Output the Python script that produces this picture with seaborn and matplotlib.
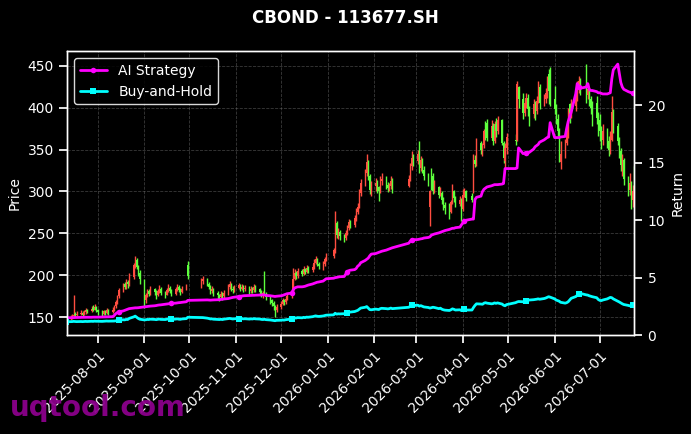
import numpy as np
import pandas as pd
import matplotlib
matplotlib.use("Agg")
import matplotlib.pyplot as plt
import matplotlib.dates as mdates
import seaborn as sns

# ---------------- data ----------------
START_DATE = "2025-07-11"
END_DATE = "2026-07-24"
HOLIDAYS = ["2025-10-01", "2025-10-02", "2025-10-03", "2025-10-06", "2025-10-07", "2025-10-08",
            "2026-01-01", "2026-01-02",
            "2026-02-16", "2026-02-17", "2026-02-18", "2026-02-19", "2026-02-20", "2026-02-23",
            "2026-04-06", "2026-05-01", "2026-05-04", "2026-05-05", "2026-06-19"]

opens = [
    148, 149, 150, 151, 154, 152, 154, 155, 153, 156, 158, 157, 161, 159, 162,
    158, 156, 154, 157, 155, 158, 156, 159, 163, 168, 175, 182, 189, 186, 192, 189, 198, 212, 218, 210, 203,
    193, 170, 176, 181, 178, 183, 180, 176, 181, 184, 179, 177, 182, 185, 181, 178, 183, 186, 182, 180, 184, 212,
    188, 193, 196, 190, 186, 181, 183, 179, 176, 174, 178, 175, 179, 186, 189, 184, 182,
    185, 188, 184, 186, 183, 185, 181, 184, 182, 186, 183, 180, 177, 196, 178, 174, 170, 167, 163, 158,
    162, 166, 170, 168, 172, 175, 180, 196, 203, 199, 205, 202, 207, 204, 209, 206, 210, 215, 219, 214, 211, 213, 219,
    223, 230, 262, 248, 252, 247, 244, 250, 256, 263, 260, 268, 276, 282, 298, 310, 322, 335, 318, 302,
    306, 310, 305, 300, 312, 315, 308, 304, 306, 313, 307, 315, 330, 340,
    336, 352, 328, 338, 326, 318, 282, 325, 318, 300, 305, 296, 298, 290, 284, 284, 276, 287, 300, 292, 285, 290,
    279, 296, 300, 295, 301, 338, 333, 358, 350, 355, 380, 382, 364, 378, 360, 380, 372, 385, 358, 336, 352,
    362, 362, 425, 410, 394, 405, 412, 398, 392, 404, 396, 408, 425, 405, 410, 418, 440, 438,
    410, 398, 386, 372, 335, 345, 358, 368, 404, 392, 402, 414, 424, 432, 444, 415, 422, 410, 400, 405, 388,
    385, 372, 362, 372, 360, 350, 362, 395, 378, 360, 348, 332, 338, 315, 302, 310, 290, 318,
]
highs = [
    152, 153, 154, 176, 156, 157, 158, 157, 159, 161, 160, 163, 165, 166, 163,
    160, 158, 159, 158, 161, 160, 162, 165, 170, 177, 185, 191, 192, 195, 194, 203, 215, 223, 220, 212, 206,
    195, 179, 183, 183, 187, 185, 182, 184, 188, 186, 181, 185, 189, 187, 183, 186, 190, 188, 185, 187, 190, 217,
    197, 199, 197, 192, 188, 187, 185, 181, 178, 181, 180, 182, 190, 193, 191, 187, 188,
    191, 190, 189, 188, 188, 187, 187, 186, 190, 188, 185, 182, 181, 205, 180, 176, 172, 169, 165, 166,
    169, 173, 172, 175, 178, 183, 209, 208, 205, 209, 208, 211, 209, 212, 211, 213, 219, 223, 220, 216, 217, 222, 226,
    233, 277, 265, 256, 254, 249, 254, 260, 267, 266, 272, 280, 286, 303, 315, 327, 345, 338, 321, 312,
    316, 314, 307, 318, 322, 318, 311, 310, 318, 316, 320, 334, 348, 345,
    350, 360, 342, 340, 330, 322, 302, 328, 322, 314, 306, 305, 300, 293, 287, 286, 290, 309, 302, 295, 295, 292,
    303, 304, 302, 298, 345, 344, 364, 360, 358, 375, 384, 386, 385, 382, 384, 388, 390, 387, 360, 358, 370,
    368, 432, 426, 418, 412, 418, 416, 402, 410, 408, 414, 432, 428, 416, 424, 438, 446, 448,
    426, 404, 392, 376, 360, 363, 378, 400, 406, 410, 422, 432, 438, 436, 452, 430, 424, 414, 408, 414, 395,
    392, 378, 380, 376, 366, 372, 414, 398, 382, 365, 352, 345, 340, 318, 322, 312, 308, 330,
]
lows = [
    144, 147, 148, 149, 150, 151, 152, 151, 152, 154, 155, 156, 157, 158, 156,
    153, 151, 153, 152, 154, 153, 155, 157, 161, 166, 173, 180, 183, 184, 185, 187, 196, 209, 207, 199, 190,
    161, 167, 174, 175, 176, 177, 172, 175, 179, 177, 173, 176, 180, 179, 175, 177, 181, 180, 177, 179, 182, 196,
    185, 190, 187, 183, 178, 179, 175, 172, 169, 172, 171, 173, 177, 184, 181, 179, 180,
    183, 181, 182, 180, 181, 178, 179, 179, 180, 180, 177, 174, 173, 176, 170, 166, 163, 158, 150, 156,
    160, 164, 165, 166, 170, 173, 178, 194, 196, 197, 199, 200, 202, 203, 203, 204, 208, 213, 211, 207, 206, 211, 217,
    220, 227, 245, 243, 242, 240, 242, 248, 254, 256, 258, 265, 273, 280, 295, 307, 318, 314, 297, 295,
    300, 298, 289, 298, 308, 303, 299, 300, 303, 298, 305, 312, 326, 330,
    333, 322, 325, 322, 314, 306, 259, 302, 297, 298, 292, 294, 285, 278, 273, 267, 274, 285, 288, 281, 283, 265,
    277, 293, 289, 288, 298, 329, 330, 345, 342, 352, 362, 360, 362, 355, 358, 365, 368, 355, 334, 327, 345,
    356, 360, 400, 386, 390, 400, 390, 378, 388, 385, 392, 405, 398, 402, 406, 412, 404, 402,
    392, 380, 366, 335, 327, 340, 355, 364, 382, 388, 396, 408, 418, 415, 405, 410, 402, 392, 378, 380, 366,
    360, 351, 355, 352, 342, 345, 360, 370, 355, 340, 325, 318, 308, 295, 296, 279, 282, 300,
]
closes = [
    149, 150, 151, 153, 152, 154, 155, 153, 156, 158, 157, 160, 159, 162, 158,
    156, 154, 157, 155, 158, 156, 159, 163, 168, 175, 182, 188, 186, 191, 189, 198, 212, 218, 210, 203, 195,
    170, 176, 180, 178, 183, 180, 176, 181, 184, 179, 177, 182, 185, 181, 178, 183, 186, 182, 180, 184, 187, 199,
    193, 196, 190, 186, 181, 183, 179, 176, 174, 178, 175, 179, 186, 189, 184, 182, 185,
    188, 184, 186, 183, 185, 181, 184, 182, 186, 183, 180, 177, 179, 178, 174, 170, 167, 163, 158, 162,
    166, 170, 168, 172, 175, 180, 196, 203, 199, 205, 202, 207, 204, 209, 206, 210, 215, 219, 214, 211, 213, 219, 223,
    230, 262, 248, 252, 247, 244, 250, 256, 263, 260, 268, 276, 282, 298, 310, 322, 335, 318, 302, 306,
    310, 305, 300, 312, 315, 308, 304, 306, 313, 302, 315, 330, 340, 336,
    345, 328, 338, 326, 318, 310, 300, 305, 300, 310, 296, 302, 290, 284, 280, 276, 287, 300, 292, 285, 290, 279,
    296, 300, 292, 290, 338, 333, 358, 350, 355, 372, 366, 364, 378, 360, 380, 372, 385, 358, 340, 352, 365,
    360, 428, 410, 394, 405, 412, 398, 392, 404, 396, 408, 425, 405, 410, 418, 430, 420, 410,
    398, 386, 372, 340, 345, 358, 368, 396, 392, 402, 414, 424, 432, 424, 415, 422, 410, 400, 388, 388, 375,
    372, 362, 372, 360, 350, 366, 395, 378, 360, 348, 332, 338, 315, 302, 310, 290, 300, 306,
]
ai_strategy = [
    1.50, 1.51, 1.52, 1.52, 1.53, 1.53, 1.54, 1.54, 1.54, 1.55, 1.55, 1.55, 1.56, 1.56, 1.56,
    1.56, 1.57, 1.57, 1.58, 1.58, 1.59, 1.60, 1.70, 1.85, 1.95, 2.03, 2.10, 2.15, 2.20, 2.25, 2.30, 2.35, 2.37, 2.37, 2.38, 2.40,
    2.45, 2.47, 2.48, 2.50, 2.52, 2.55, 2.57, 2.60, 2.62, 2.63, 2.68, 2.70, 2.72, 2.74, 2.76, 2.78, 2.80, 2.82, 2.83, 2.85, 2.90, 3.02,
    3.05, 3.06, 3.06, 3.05, 3.04, 3.05, 3.06, 3.07, 3.08, 3.10, 3.12, 3.14, 3.18, 3.22, 3.25, 3.28, 3.30,
    3.35, 3.38, 3.40, 3.42, 3.43, 3.44, 3.45, 3.46, 3.46, 3.47, 3.48, 3.49, 3.50, 3.50, 3.45, 3.42, 3.40, 3.38, 3.36, 3.38,
    3.42, 3.45, 3.50, 3.55, 3.60, 3.65, 3.90, 4.10, 4.15, 4.20, 4.20, 4.22, 4.25, 4.30, 4.35, 4.45, 4.50, 4.55, 4.60, 4.62, 4.70, 4.80, 4.90,
    4.95, 5.00, 5.02, 5.05, 5.08, 5.10, 5.30, 5.50, 5.60, 5.65, 5.70, 5.80, 6.00, 6.10, 6.30, 6.50, 6.60, 6.70, 6.90, 7.05,
    7.10, 7.15, 7.20, 7.25, 7.30, 7.40, 7.45, 7.50, 7.55, 7.60, 8.00, 8.20, 8.30, 8.30,
    8.32, 8.35, 8.38, 8.40, 8.45, 8.50, 8.55, 8.70, 8.75, 8.80, 8.90, 8.95, 9.00, 9.05, 9.10, 9.20, 9.25, 9.30, 9.30, 9.35, 9.40, 9.60,
    9.80, 9.90, 10.00, 10.10, 10.10, 11.80, 12.00, 12.10, 12.50, 12.70, 12.80, 12.90, 13.00, 13.05, 13.10, 13.10, 13.10, 13.15, 13.20, 14.50, 14.50,
    14.50, 14.55, 16.30, 15.80, 15.85, 15.85, 15.90, 15.90, 16.20, 16.40, 16.50, 16.60, 16.80, 17.00, 17.10, 17.20, 17.25, 18.50,
    17.20, 17.20, 17.20, 17.20, 17.25, 17.30, 18.00, 18.60, 19.00, 19.40, 21.00, 21.90, 21.60, 21.50, 21.60, 21.90, 21.40, 21.30, 21.30, 21.20, 21.10,
    21.10, 21.05, 21.00, 21.00, 21.05, 21.10, 22.30, 23.10, 23.60, 22.80, 22.00, 21.60, 21.40, 21.20, 21.15, 21.10, 21.10, 21.10,
]
buy_hold = [
    1.16, 1.17, 1.17, 1.19, 1.18, 1.17, 1.18, 1.17, 1.18, 1.19, 1.18, 1.20, 1.19, 1.21, 1.20,
    1.20, 1.19, 1.20, 1.21, 1.22, 1.21, 1.22, 1.22, 1.24, 1.27, 1.30, 1.33, 1.32, 1.36, 1.35, 1.45, 1.58, 1.65, 1.55, 1.45, 1.38,
    1.32, 1.33, 1.36, 1.35, 1.38, 1.36, 1.34, 1.37, 1.39, 1.36, 1.35, 1.38, 1.40, 1.37, 1.36, 1.39, 1.41, 1.38, 1.37, 1.40, 1.43, 1.55,
    1.52, 1.52, 1.47, 1.44, 1.40, 1.41, 1.38, 1.36, 1.35, 1.37, 1.35, 1.38, 1.43, 1.45, 1.42, 1.40, 1.42,
    1.44, 1.42, 1.43, 1.41, 1.42, 1.39, 1.41, 1.40, 1.43, 1.41, 1.39, 1.36, 1.35, 1.37, 1.34, 1.31, 1.29, 1.27, 1.25, 1.28,
    1.29, 1.31, 1.30, 1.33, 1.35, 1.38, 1.45, 1.50, 1.48, 1.52, 1.50, 1.54, 1.52, 1.56, 1.55, 1.60, 1.64, 1.67, 1.64, 1.62, 1.66, 1.70, 1.73,
    1.76, 1.90, 1.82, 1.85, 1.84, 1.86, 1.92, 1.96, 2.00, 2.00, 2.05, 2.10, 2.15, 2.25, 2.35, 2.42, 2.48, 2.35, 2.22, 2.20,
    2.26, 2.24, 2.22, 2.30, 2.33, 2.30, 2.28, 2.30, 2.35, 2.30, 2.42, 2.52, 2.60, 2.57,
    2.60, 2.52, 2.56, 2.50, 2.45, 2.40, 2.35, 2.38, 2.42, 2.40, 2.30, 2.34, 2.25, 2.20, 2.17, 2.14, 2.20, 2.28, 2.24, 2.18, 2.20, 2.13,
    2.20, 2.24, 2.18, 2.18, 2.40, 2.58, 2.72, 2.70, 2.68, 2.78, 2.82, 2.78, 2.72, 2.74, 2.80, 2.76, 2.80, 2.70, 2.60, 2.55, 2.65,
    2.82, 2.88, 2.92, 2.90, 2.95, 2.98, 3.00, 3.05, 3.08, 3.10, 3.12, 3.15, 3.12, 3.18, 3.22, 3.28, 3.34, 3.30,
    3.15, 3.05, 3.00, 2.95, 2.85, 2.78, 2.82, 2.90, 3.05, 3.20, 3.35, 3.45, 3.55, 3.63, 3.50, 3.48, 3.42, 3.38, 3.34, 3.25, 3.10,
    3.02, 3.00, 3.05, 3.15, 3.22, 3.28, 3.25, 3.15, 2.95, 2.88, 2.80, 2.72, 2.66, 2.58, 2.54, 2.60, 2.62, 2.56,
]

TITLE = "CBOND - 113677.SH"
WATERMARK = "uqtool.com"

# ---------------- style ----------------
sns.set_theme(style="dark", rc={
    "figure.facecolor": "black", "axes.facecolor": "black", "savefig.facecolor": "black",
    "axes.edgecolor": "white", "axes.labelcolor": "white", "text.color": "white",
    "xtick.color": "white", "ytick.color": "white",
    "xtick.bottom": True, "ytick.left": True,
    "axes.linewidth": 1.0,
})
plt.rcParams["font.family"] = ["DejaVu Sans"]

dates = pd.bdate_range(START_DATE, END_DATE)
dates = dates[~dates.isin(pd.to_datetime(HOLIDAYS))]
n = min(len(dates), len(opens), len(highs), len(lows), len(closes), len(ai_strategy), len(buy_hold))
print("lengths", len(dates), len(opens), len(highs), len(lows), len(closes), len(ai_strategy), len(buy_hold))
dates = dates[:n]
o = np.array(opens[:n], float)
h = np.array(highs[:n], float)
l = np.array(lows[:n], float)
c = np.array(closes[:n], float)

RED = "#ff4d40"
GREEN = "#5dff3d"
colors = np.where(c >= o, RED, GREEN)

fig, ax = plt.subplots(figsize=(6.91, 4.34), dpi=100)
fig.subplots_adjust(left=0.097, right=0.918, top=0.882, bottom=0.228)

ax.vlines(dates, l, h, colors=colors, linewidth=1.0, zorder=2)
ax.bar(dates, np.maximum(np.abs(c - o), 0.8), bottom=np.minimum(o, c), width=0.8,
       color=colors, linewidth=0, zorder=3)
ax.set_ylabel("Price", color="white", fontsize=10)
ax.set_xlabel("")
ax.grid(True, color="#808080", linestyle="--", linewidth=0.6, alpha=0.45)

ax2 = ax.twinx()
df = pd.DataFrame({"date": dates, "AI Strategy": ai_strategy[:n], "Buy-and-Hold": buy_hold[:n]})
sns.lineplot(data=df, x="date", y="AI Strategy", ax=ax2, color="#ff00ff", linewidth=2,
             marker="o", markersize=4, markevery=25, markeredgewidth=0, label="AI Strategy")
sns.lineplot(data=df, x="date", y="Buy-and-Hold", ax=ax2, color="#00ffff", linewidth=2,
             marker="s", markersize=4, markevery=25, markeredgewidth=0, label="Buy-and-Hold")
ax2.set_ylim(bottom=0)
ax2.set_ylabel("Return", color="white", fontsize=10)
ax2.set_xlabel("")
ax2.grid(False)
ax2.tick_params(axis="y", right=True, colors="white", labelsize=10)
ax.tick_params(axis="both", colors="white", labelsize=10)

leg = ax2.legend(loc="upper left", facecolor="black", edgecolor="white", framealpha=0.85,
                 fontsize=10, labelcolor="white")

ax.set_xlim(dates[0] + pd.Timedelta(hours=16), dates[-1])
ax.xaxis.set_major_locator(mdates.MonthLocator())
ax.xaxis.set_major_formatter(mdates.DateFormatter("%Y-%m-%d"))
for lab in ax.get_xticklabels():
    lab.set_rotation(45)
    lab.set_ha("right")
    lab.set_rotation_mode("anchor")

for sp in list(ax.spines.values()) + list(ax2.spines.values()):
    sp.set_color("white")

fig.suptitle(TITLE, fontsize=12, fontweight="bold", color="white", y=1 - 18 / 434, va="center")
fig.text(0.014, 1 - 408 / 434, WATERMARK, fontsize=20, fontweight="bold", color="#8b008b",
         alpha=0.95, ha="left", va="center")

fig.savefig("out.png", dpi=100, facecolor="black")
